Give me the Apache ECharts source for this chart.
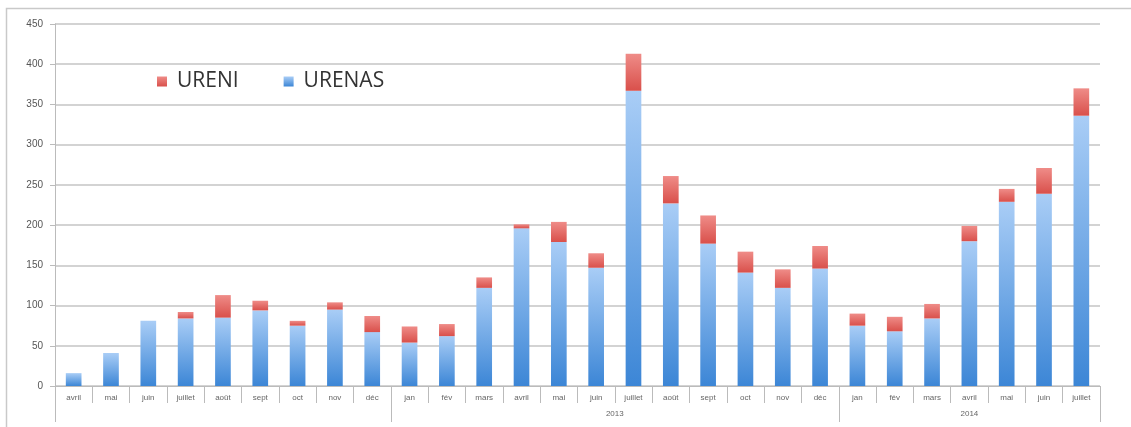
<!DOCTYPE html>
<html>
<head>
<meta charset="utf-8">
<script src="https://cdn.jsdelivr.net/npm/echarts@6/dist/echarts.min.js"></script>
<style>
  html, body { margin: 0; padding: 0; background: #fff; }
  #chart { width: 1131px; height: 427px; }
</style>
</head>
<body>
<div id="chart"></div>
<script>
// mois (avril 2012 -> juillet 2014)
const months = ['avril', 'mai', 'juin', 'juillet', 'août', 'sept', 'oct', 'nov', 'déc',
    'jan', 'fév', 'mars', 'avril', 'mai', 'juin', 'juillet', 'août', 'sept', 'oct', 'nov', 'déc',
    'jan', 'fév', 'mars', 'avril', 'mai', 'juin', 'juillet'];
const urenas = [16, 41, 81, 84, 85, 94, 75, 95, 67,
    54, 62, 122, 196, 179, 147, 367, 227, 177, 141, 122, 146,
    75, 68, 84, 180, 229, 239, 336];
const ureni = [0, 0, 0, 8, 28, 12, 6, 9, 20,
    20, 15, 13, 5, 25, 18, 46, 34, 35, 26, 23, 28,
    15, 18, 18, 19, 16, 32, 34];
// groupes d'années : nombre de mois et libellé
const years = ['', '2013', '2014'];
const yearMonths = [9, 12, 7];

// axe secondaire : points tous les demi-mois
const halfPoints = [];
const boundaries = [0];
const labelsAt = {};
let acc = 0;
yearMonths.forEach((n, i) => {
    labelsAt[(acc * 2 + n)] = years[i];
    acc += n;
    boundaries.push(acc * 2);
});
for (let k = 0; k <= months.length * 2; k++) {
    halfPoints.push(labelsAt[k] || '');
}

const chart = echarts.init(document.querySelector('#chart'));
chart.setOption({
    animation: false,
    graphic: [{
        type: 'rect',
        shape: { x: 6.5, y: 8.5, width: 1140, height: 440 },
        style: { fill: 'none', stroke: '#c9c9c9', lineWidth: 1.5 }
    }],
    legend: {
        data: ['URENI', 'URENAS'],
        left: 152,
        top: 66,
        itemWidth: 10,
        itemHeight: 10,
        itemGap: 45,
        icon: 'rect',
        textStyle: {
            fontSize: 21,
            color: '#333',
            fontFamily: 'Open Sans',
            padding: [0, 0, 0, 5]
        }
    },
    grid: {
        left: 55,
        right: 31,
        top: 24,
        bottom: 41
    },
    xAxis: [{
        type: 'category',
        data: months,
        axisLine: { lineStyle: { color: '#bbb', width: 1 } },
        axisTick: { show: true, length: 17, lineStyle: { color: '#bbb' } },
        axisLabel: { interval: 0, fontSize: 8, color: '#666', margin: 8 }
    }, {
        type: 'category',
        position: 'bottom',
        boundaryGap: false,
        data: halfPoints,
        axisLine: { show: false },
        axisTick: {
            show: true,
            length: 36,
            interval: (idx) => boundaries.includes(idx),
            lineStyle: { color: '#bbb' }
        },
        axisLabel: {
            interval: (idx, val) => val !== '',
            fontSize: 8,
            color: '#666',
            margin: 24
        }
    }],
    yAxis: {
        type: 'value',
        min: 0,
        max: 450,
        interval: 50,
        axisLine: { show: true, lineStyle: { color: '#bbb' } },
        axisTick: { show: true, length: 5, lineStyle: { color: '#bbb' } },
        axisLabel: { fontSize: 10, color: '#555', margin: 12 },
        splitLine: { lineStyle: { color: '#c4c4c4', width: 1.5 } }
    },
    series: [{
        name: 'URENAS',
        type: 'bar',
        stack: 'total',
        barWidth: '42%',
        data: urenas,
        itemStyle: {
            color: {
                type: 'linear', x: 0, y: 0, x2: 0, y2: 1,
                colorStops: [
                    { offset: 0, color: '#a9cdf6' },
                    { offset: 1, color: '#3c86d6' }
                ]
            }
        }
    }, {
        name: 'URENI',
        type: 'bar',
        stack: 'total',
        barWidth: '42%',
        data: ureni,
        itemStyle: {
            color: {
                type: 'linear', x: 0, y: 0, x2: 0, y2: 1,
                colorStops: [
                    { offset: 0, color: '#ef8c88' },
                    { offset: 1, color: '#d9504b' }
                ]
            }
        }
    }]
});
</script>
</body>
</html>
